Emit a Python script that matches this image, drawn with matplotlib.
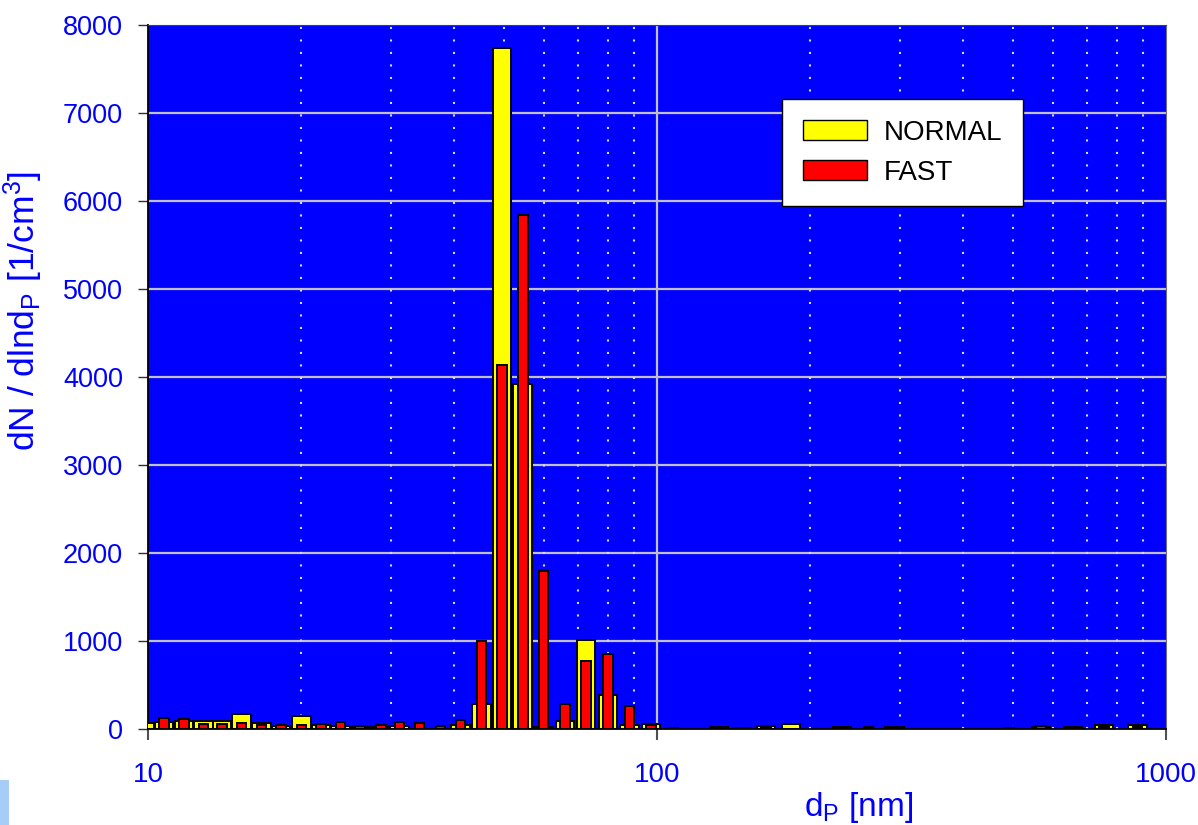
import matplotlib
matplotlib.use("Agg")
import matplotlib.pyplot as plt
from matplotlib.patches import Patch, Rectangle
import numpy as np

plt.rcParams['font.family'] = ['Liberation Sans', 'DejaVu Sans']
plt.rcParams['mathtext.default'] = 'regular'

# particle diameter of each size channel [nm]
d_p = [9.87, 10.75, 11.77, 12.85, 13.99, 15.26, 16.71, 18.26, 20.01, 21.86,
       23.91, 26.11, 28.66, 31.22, 34.16, 37.57, 41.13, 45.20, 49.65, 54.48,
       59.79, 65.92, 72.48, 80.10, 88.30, 97.32, 107.8, 132.5, 147.0, 163.9,
       183.2, 230.8, 260.3, 292.8, 493.1, 567.5, 656.2, 755.0, 878.8]

normal = [72, 78, 90, 95, 95, 170, 72, 35, 148, 50,
          38, 19, 19, 34, 0, 0, 45, 285, 7740, 3920,
          25, 95, 1010, 383, 40, 55, 0, 19, 8, 38,
          60, 20, 0, 18, 0, 20, 20, 42, 45]

fast = [0, 130, 117, 53, 53, 68, 42, 42, 42, 55,
        76, 34, 45, 80, 64, 34, 100, 1000, 4140, 5840,
        1790, 284, 776, 856, 258, 45, 15, 0, 8, 27,
        0, 20, 26, 15, 8, 34, 26, 19, 18]

y_ticks = [0, 1000, 2000, 3000, 4000, 5000, 6000, 7000, 8000]
x_ticks = [10, 100, 1000]

blue = '#0000ff'

fig = plt.figure(figsize=(11.98, 8.25), dpi=100)
ax = fig.add_axes([148/1198, 96/825, 1018/1198, 704/825])
ax.set_facecolor(blue)
ax.set_xscale('log')
ax.set_xlim(10, 1000)
ax.set_ylim(0, 8000)


def bar_span(d, px_width):
    # bars keep a constant pixel width on the log axis (508 px per decade)
    d = np.asarray(d)
    f = 10 ** (px_width / 2 / 508)
    return d / f, d * f - d / f


left, w = bar_span(d_p, 18.5)
ax.bar(left, normal, width=w, align='edge', color='#ffff00',
       edgecolor='black', linewidth=1.4, zorder=3)
left, w = bar_span(d_p, 9.5)
ax.bar(left, fast, width=w, align='edge', color='#ff0000',
       edgecolor='black', linewidth=1.4, zorder=4)

# grid
ax.set_axisbelow(True)
for y in y_ticks[1:-1]:
    ax.axhline(y, color='#c0c0c0', linewidth=1.6, zorder=1)
ax.axvline(100, color='#c0c0c0', linewidth=1.6, zorder=1)
for x in list(range(20, 100, 10)) + list(range(200, 1000, 100)):
    ax.axvline(x, color='#d8d8ff', linewidth=1.5, linestyle=(0, (1, 5)), zorder=1)

ax.set_yticks(y_ticks)
ax.set_xticks(x_ticks)
ax.set_xticklabels(['10', '100', '1000'])
ax.xaxis.set_minor_locator(matplotlib.ticker.NullLocator())
ax.tick_params(axis='y', direction='out', length=7, width=1, color='#303030',
               labelsize=19.5, labelcolor=blue, pad=11)
ax.tick_params(axis='x', direction='out', length=8, width=1.5, color='#505050',
               labelsize=20, labelcolor=blue, pad=16)

for s in ['left', 'bottom']:
    ax.spines[s].set_color('black')
    ax.spines[s].set_linewidth(1.3)
ax.spines['top'].set_color('#404040')
ax.spines['right'].set_color('#707070')

ax.set_ylabel('dN / dlnd$_P$ [1/cm$^3$]', fontsize=25.5, color=blue)
ax.yaxis.set_label_coords(-0.101, 0.594)
ax.set_xlabel('d$_P$ [nm]', fontsize=24, color=blue)
ax.xaxis.set_label_coords(0.698, -0.086)

handles = [Patch(facecolor='#ffff00', edgecolor='black', linewidth=1.0, label='NORMAL'),
           Patch(facecolor='#ff0000', edgecolor='black', linewidth=1.0, label='FAST')]
leg = ax.legend(handles=handles, loc='upper left', bbox_to_anchor=(0.623, 0.895),
                borderaxespad=0, fontsize=20, fancybox=False, framealpha=1,
                edgecolor='black', borderpad=0.75, handlelength=2.3,
                handleheight=0.7, handletextpad=0.6, labelspacing=0.5)
leg.get_frame().set_linewidth(1.0)
leg.set_zorder(10)

fig.patches.append(Rectangle((0, 0), 9/1198, 45/825, transform=fig.transFigure,
                             facecolor='#a8ccf8', edgecolor='none'))

fig.savefig('out.png', dpi=100)
